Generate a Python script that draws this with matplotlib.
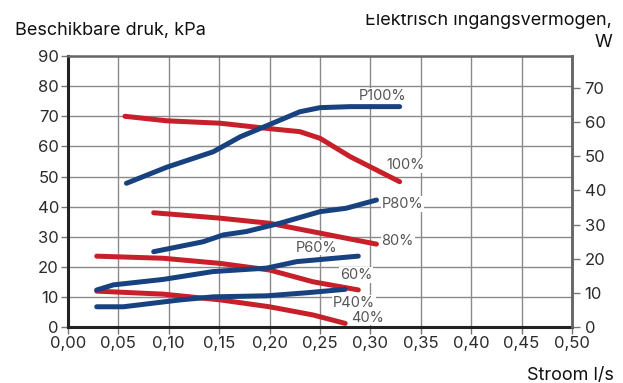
import matplotlib
matplotlib.use("Agg")
import matplotlib.pyplot as plt
from matplotlib.patches import Rectangle

plt.rcParams['font.family'] = ['Inter', 'DejaVu Sans']

# Available pressure (kPa) vs flow (l/s), per pump speed
flow_100 = [0.0565, 0.098, 0.151, 0.197, 0.230, 0.250, 0.280, 0.329]
press_100 = [70.0, 68.5, 67.7, 66.0, 64.9, 62.7, 56.6, 48.3]
flow_80 = [0.085, 0.151, 0.200, 0.243, 0.306]
press_80 = [38.0, 36.2, 34.5, 31.7, 27.6]
flow_60 = [0.0285, 0.0945, 0.151, 0.200, 0.243, 0.288]
press_60 = [23.6, 22.9, 21.2, 19.0, 15.1, 12.4]
flow_40 = [0.0285, 0.0945, 0.151, 0.200, 0.243, 0.275]
press_40 = [12.0, 11.0, 9.1, 6.8, 4.1, 1.3]

# Electrical input power (W) vs flow (l/s), per pump speed
pflow_100 = [0.058, 0.098, 0.144, 0.171, 0.197, 0.230, 0.250, 0.280, 0.329]
power_100 = [42.1, 46.8, 51.3, 55.7, 58.9, 63.0, 64.2, 64.5, 64.5]
pflow_80 = [0.085, 0.134, 0.154, 0.177, 0.210, 0.250, 0.276, 0.306]
power_80 = [22.1, 25.0, 27.0, 28.0, 30.4, 33.8, 34.8, 37.2]
pflow_60 = [0.0285, 0.045, 0.0945, 0.144, 0.197, 0.227, 0.288]
power_60 = [10.9, 12.4, 14.0, 16.3, 17.3, 19.2, 20.8]
pflow_40 = [0.0285, 0.055, 0.111, 0.144, 0.197, 0.237, 0.275]
power_40 = [6.0, 6.0, 8.0, 8.9, 9.2, 10.1, 11.1]

x_ticks = [0.00, 0.05, 0.10, 0.15, 0.20, 0.25, 0.30, 0.35, 0.40, 0.45, 0.50]
left_ticks = [0, 10, 20, 30, 40, 50, 60, 70, 80, 90]
right_ticks = [0, 10, 20, 30, 40, 50, 60, 70]

RED = "#c8202a"
BLUE = "#17427f"
TXT = "#2b2b2b"
LBL = "#555555"
FS = 12
TFS = 13

fig = plt.figure(figsize=(6.23, 3.83), dpi=100)
ax = fig.add_axes([68 / 623, 1 - 327.3 / 383, (572 - 68) / 623, (327.3 - 56) / 383])
ax2 = ax.twinx()

ax.set_xlim(0, 0.5)
ax.set_ylim(0, 90)
ax2.set_ylim(0, 79.3)

ax.set_xticks(x_ticks)
ax.set_xticklabels([f"{v:.2f}".replace(".", ",") for v in x_ticks])
ax.set_yticks(left_ticks)
ax2.set_yticks(right_ticks)

ax.grid(True, color="#8a8a8a", linewidth=1.0)
ax.set_axisbelow(True)

for s in ("left", "bottom"):
    ax.spines[s].set_color("#222222")
    ax.spines[s].set_linewidth(2.2)
for s in ("top", "right"):
    ax.spines[s].set_color("#666666")
    ax.spines[s].set_linewidth(1.8)
for s in ax2.spines.values():
    s.set_visible(False)
ax2.spines["right"].set_visible(True)
ax2.spines["right"].set_color("#666666")
ax2.spines["right"].set_linewidth(1.8)

ax.tick_params(axis="both", colors="#777777", labelcolor=TXT, labelsize=FS,
               length=5, width=1.0, pad=1.5)
ax.tick_params(axis="x", pad=1)
ax2.tick_params(axis="y", colors="#777777", labelcolor=TXT, labelsize=FS,
                length=6, width=1.0, pad=3)

lw = 3.6
for fx, py in ((flow_100, press_100), (flow_80, press_80),
               (flow_60, press_60), (flow_40, press_40)):
    ax.plot(fx, py, color=RED, lw=lw, solid_capstyle="round",
            solid_joinstyle="round", zorder=3)
for fx, pw in ((pflow_100, power_100), (pflow_80, power_80),
               (pflow_60, power_60), (pflow_40, power_40)):
    ax2.plot(fx, pw, color=BLUE, lw=lw, solid_capstyle="round",
             solid_joinstyle="round", zorder=3)

box = dict(facecolor="white", edgecolor="none", pad=0.5)
curve_labels = [
    ("P100%", 0.3125, 76.7), ("100%", 0.335, 53.7),
    ("P80%", 0.332, 40.9), ("80%", 0.327, 28.7),
    ("P60%", 0.247, 26.4), ("60%", 0.286, 17.3),
    ("P40%", 0.284, 8.1), ("40%", 0.297, 3.2),
]
for txt, x, y in curve_labels:
    ax.text(x, y, txt, color=LBL, fontsize=10.5, ha="center", va="center",
            bbox=box, zorder=2.5)

fig.text(15 / 623, 1 - 35 / 383, "Beschikbare druk, kPa", fontsize=TFS,
         color="#111111", ha="left", va="baseline")
# Upper title line is cut off along its top edge
clip_rect = Rectangle((0, 0), 1, 1 - 14 / 383, transform=fig.transFigure,
                      facecolor="none", edgecolor="none")
fig.add_artist(clip_rect)
clip_rect.set_visible(False)
t = fig.text(612 / 623, 1 - 25 / 383, "Elektrisch ingangsvermogen,",
             fontsize=TFS, color="#111111", ha="right", va="baseline")
t.set_clip_path(clip_rect)
fig.text(612 / 623, 1 - 47 / 383, "W", fontsize=TFS, color="#111111",
         ha="right", va="baseline")
fig.text(614 / 623, 1 - 380 / 383, "Stroom l/s", fontsize=TFS,
         color="#111111", ha="right", va="baseline")

fig.savefig("out.png", dpi=100)
